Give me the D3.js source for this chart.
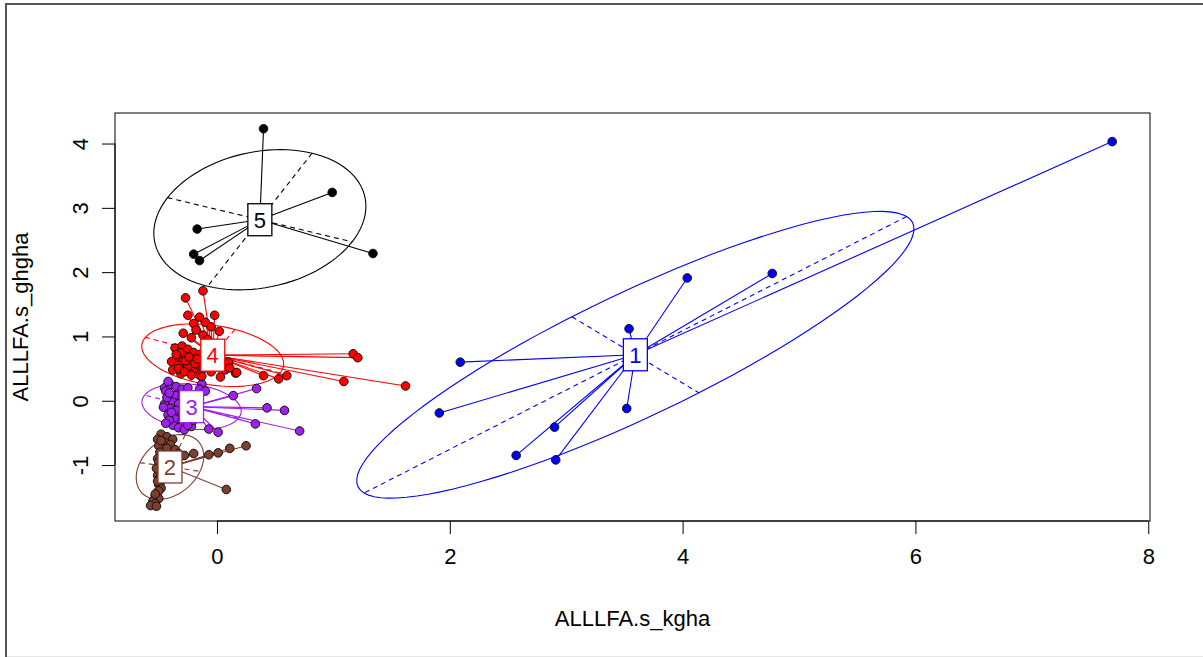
<!DOCTYPE html>
<html><head><meta charset="utf-8">
<script src="https://cdn.jsdelivr.net/npm/d3@7"></script>
<style>
body{margin:0;background:#fff;}
svg{display:block;}
text{font-family:"Liberation Sans",Arial,sans-serif;}
</style>
</head><body>
<svg id="chart" width="1203" height="657"></svg>
<script>
// ---------- data ----------
const clusterLabels = ["1", "2", "3", "4", "5"];
const clusterColors = ["#0000FF", "#7F3F2F", "#A020F0", "#FF0000", "#000000"];
const xTicks = [0, 2, 4, 6, 8];
const yTicks = [-1, 0, 1, 2, 3, 4];
const xDomain = [-0.876, 8.015];
const yDomain = [-1.87, 4.475];
const xTitle = "ALLLFA.s_kgha";
const yTitle = "ALLLFA.s_ghgha";
const ellipseCoeff = 1.5;

const cluster1 = [[4.04,1.91],[3.54,1.12],[2.09,0.60],[1.91,-0.19],[3.52,-0.12],[2.90,-0.41],
  [2.57,-0.85],[2.91,-0.92],[4.77,1.98],[7.69,4.03]];

const cluster2 = [[0.25,-0.70],[0.11,-0.74],[0.01,-0.81],[-0.07,-0.84],[-0.20,-0.82],[0.08,-1.38],
  [-0.48,-0.52],[-0.43,-0.56],[-0.38,-0.60],[-0.51,-0.60],[-0.45,-0.65],[-0.40,-0.68],[-0.50,-0.70],
  [-0.43,-0.74],[-0.36,-0.76],[-0.49,-0.80],[-0.45,-0.85],[-0.51,-0.90],[-0.47,-0.96],[-0.50,-1.02],
  [-0.48,-1.10],[-0.51,-1.16],[-0.49,-1.22],[-0.50,-1.30],[-0.48,-1.36],[-0.51,-1.42],[-0.53,-1.48],
  [-0.50,-1.52],[-0.55,-1.56],[-0.53,-1.60],[-0.57,-1.63],[-0.52,-1.64],[-0.33,-0.82],[-0.28,-0.85],
  [-0.50,-0.95],[-0.52,-1.05],[-0.49,-1.20],[-0.51,-1.25],[-0.50,-1.40],[-0.48,-0.62],[-0.53,-1.45],[-0.47,-1.05]];

const cluster3 = [[-0.13,0.26],[0.34,0.19],[0.14,0.08],[0.43,-0.11],[0.58,-0.15],[0.33,-0.36],[0.71,-0.47],
  [0.01,-0.49],[-0.07,-0.44],[-0.22,-0.40],
  [-0.45,0.20],[-0.40,0.25],[-0.35,0.22],[-0.30,0.18],[-0.25,0.20],[-0.15,0.18],[-0.10,0.15],
  [-0.42,0.10],[-0.36,0.08],[-0.30,0.05],[-0.38,-0.02],[-0.33,-0.05],[-0.45,-0.05],[-0.40,-0.12],
  [-0.35,-0.15],[-0.30,-0.20],[-0.42,-0.22],[-0.36,-0.28],[-0.30,-0.32],[-0.38,-0.38],[-0.33,-0.42],
  [-0.28,-0.45],[-0.25,-0.38],[-0.20,-0.30],[-0.27,-0.10],[-0.25,0.00],
  [-0.44,0.15],[-0.43,0.05],[-0.46,-0.10],[-0.41,-0.30],[-0.39,-0.18],[-0.44,-0.35],[-0.41,0.12],[-0.42,0.30]];

const cluster4 = [[1.17,0.73],[1.21,0.67],[1.62,0.23],[1.09,0.30],[0.60,0.39],[0.53,0.34],[0.40,0.39],
  [0.16,0.43],[-0.12,1.71],[-0.27,1.60],
  [-0.25,1.33],[-0.15,1.30],[-0.02,1.33],[0.02,1.08],[-0.29,1.05],[-0.20,1.20],[-0.10,1.22],[-0.05,1.15],
  [-0.18,1.10],[-0.12,1.02],[-0.22,0.98],[-0.08,0.95],
  [-0.36,0.82],[-0.30,0.85],[-0.25,0.80],[-0.20,0.75],[-0.15,0.72],[-0.28,0.70],[-0.35,0.65],[-0.39,0.61],
  [-0.30,0.60],[-0.22,0.62],[-0.18,0.55],[-0.25,0.52],[-0.33,0.55],[-0.38,0.48],[-0.31,0.42],[-0.20,0.45],
  [-0.12,0.50],[-0.15,0.40],[-0.08,0.58],[-0.10,0.68],[0.03,0.37],[0.07,0.48],[0.01,0.56],[-0.05,0.45],[0.10,0.60],
  [0.03,0.64],[0.11,0.51],[0.17,0.44],
  [-0.32,0.75],[-0.27,0.62],[-0.24,0.68],[-0.33,0.50],[-0.19,0.58],[-0.28,0.45],[-0.22,0.40],[-0.35,0.72],
  [-0.17,0.65],[-0.13,0.38]];

const cluster5 = [[0.40,4.23],[0.99,3.24],[-0.17,2.67],[-0.20,2.28],[-0.15,2.18],[1.34,2.29]];

const clusters = [cluster1, cluster2, cluster3, cluster4, cluster5];

// ---------- layout ----------
const svg = d3.select("#chart");
const plot = {left: 115, right: 1150, top: 113, bottom: 521};
const x = d3.scaleLinear().domain(xDomain).range([plot.left, plot.right]);
const y = d3.scaleLinear().domain(yDomain).range([plot.bottom, plot.top]);

// outer device frame
svg.append("rect").attr("x", 6).attr("y", 4).attr("width", 1240).attr("height", 720)
  .attr("fill", "none").attr("stroke", "#555").attr("stroke-width", 2);
svg.append("line").attr("x1", 7).attr("x2", 1203).attr("y1", 656.5).attr("y2", 656.5)
  .attr("stroke", "#e8e8e8").attr("stroke-width", 1);

svg.append("defs").append("clipPath").attr("id", "pclip")
  .append("rect").attr("x", plot.left).attr("y", plot.top)
  .attr("width", plot.right - plot.left).attr("height", plot.bottom - plot.top);

const g = svg.append("g").attr("clip-path", "url(#pclip)");

// ellipse helper (ade4 scatterutil.ellipse)
function ellipseParams(pts) {
  const n = pts.length;
  const mx = d3.mean(pts, d => d[0]);
  const my = d3.mean(pts, d => d[1]);
  let vx = 0, vy = 0, cxy = 0;
  pts.forEach(p => { vx += (p[0]-mx)**2/n; vy += (p[1]-my)**2/n; cxy += (p[0]-mx)*(p[1]-my)/n; });
  const delta = Math.sqrt((vx-vy)*(vx-vy) + 4*cxy*cxy);
  let l1 = (vx + vy + delta)/2;
  let l2 = vx + vy - l1;
  l1 = Math.sqrt(Math.max(l1, 0)); l2 = Math.sqrt(Math.max(l2, 0));
  let a0, b0;
  if (Math.abs(cxy) < 1e-10) { if (vx > vy) { a0 = 1; b0 = 0; } else { a0 = 0; b0 = 1; } }
  else {
    a0 = 1; b0 = (l1*l1 - vx)/cxy;
    const nm = Math.sqrt(a0*a0 + b0*b0); a0 /= nm; b0 /= nm;
  }
  const k = ellipseCoeff;
  return {mx, my, c11: k*a0*l1, c12: -k*b0*l2, c21: k*b0*l1, c22: k*a0*l2};
}

const params = clusters.map(ellipseParams);

// star lines
clusters.forEach((pts, i) => {
  const e = params[i];
  g.append("g").selectAll("line").data(pts).join("line")
    .attr("x1", x(e.mx)).attr("y1", y(e.my))
    .attr("x2", d => x(d[0])).attr("y2", d => y(d[1]))
    .attr("stroke", clusterColors[i]).attr("stroke-width", 1.1);
});

// ellipses + axes
clusters.forEach((pts, i) => {
  const e = params[i];
  const poly = d3.range(100).map(j => {
    const a = j * 2 * Math.PI / 100;
    return [x(e.mx + e.c11*Math.cos(a) + e.c12*Math.sin(a)), y(e.my + e.c21*Math.cos(a) + e.c22*Math.sin(a))];
  });
  g.append("path").attr("d", "M" + poly.join("L") + "Z")
    .attr("fill", "none").attr("stroke", clusterColors[i]).attr("stroke-width", 1.1);
  [[e.c11, e.c21], [e.c12, e.c22]].forEach(([dx, dy]) => {
    g.append("line")
      .attr("x1", x(e.mx + dx)).attr("y1", y(e.my + dy))
      .attr("x2", x(e.mx - dx)).attr("y2", y(e.my - dy))
      .attr("stroke", clusterColors[i]).attr("stroke-width", 1.1).attr("stroke-dasharray", "5,4");
  });
});

// points
clusters.forEach((pts, i) => {
  g.append("g").selectAll("circle").data(pts).join("circle")
    .attr("cx", d => x(d[0])).attr("cy", d => y(d[1])).attr("r", 4.3)
    .attr("fill", clusterColors[i]).attr("stroke", "#111").attr("stroke-width", 1);
});

// labels
clusters.forEach((pts, i) => {
  const e = params[i];
  const cx = x(e.mx), cy = y(e.my);
  svg.append("rect").attr("x", cx - 12).attr("y", cy - 16).attr("width", 24).attr("height", 32)
    .attr("fill", "#fff").attr("stroke", clusterColors[i]).attr("stroke-width", 1.3);
  svg.append("text").attr("x", cx).attr("y", cy + 8).attr("text-anchor", "middle")
    .attr("font-size", 22).attr("fill", clusterColors[i]).text(clusterLabels[i]);
});

// plot box
svg.append("rect").attr("x", plot.left).attr("y", plot.top)
  .attr("width", plot.right - plot.left).attr("height", plot.bottom - plot.top)
  .attr("fill", "none").attr("stroke", "#000").attr("stroke-width", 1);

// axes
const fmt = d => String(d);
const xAxis = d3.axisBottom(x).tickValues(xTicks).tickSize(13).tickPadding(14).tickFormat(fmt);
const gx = svg.append("g").attr("transform", `translate(0,${plot.bottom})`).call(xAxis);
gx.select(".domain").attr("d", `M${x(xTicks[0])},0H${x(xTicks[xTicks.length-1])}`);
gx.selectAll("text").attr("font-size", 22).attr("font-family", "Liberation Sans, Arial, sans-serif").attr("fill", "#000");

const yAxis = d3.axisLeft(y).tickValues(yTicks).tickSize(13).tickFormat(fmt);
const gy = svg.append("g").attr("transform", `translate(${plot.left},0)`).call(yAxis);
gy.select(".domain").attr("d", `M0,${y(yTicks[0])}V${y(yTicks[yTicks.length-1])}`);
gy.selectAll(".tick text").attr("font-size", 22).attr("font-family", "Liberation Sans, Arial, sans-serif")
  .attr("fill", "#000").attr("x", null).attr("dy", null)
  .attr("transform", "translate(-35,0) rotate(-90)").attr("text-anchor", "middle").attr("dy", "0.35em");

// titles
svg.append("text").attr("x", (plot.left + plot.right)/2).attr("y", 626).attr("text-anchor", "middle")
  .attr("font-size", 22).text(xTitle);
svg.append("text").attr("transform", `translate(28,${(plot.top + plot.bottom)/2}) rotate(-90)`)
  .attr("text-anchor", "middle").attr("font-size", 22).text(yTitle);
</script>
</body></html>
